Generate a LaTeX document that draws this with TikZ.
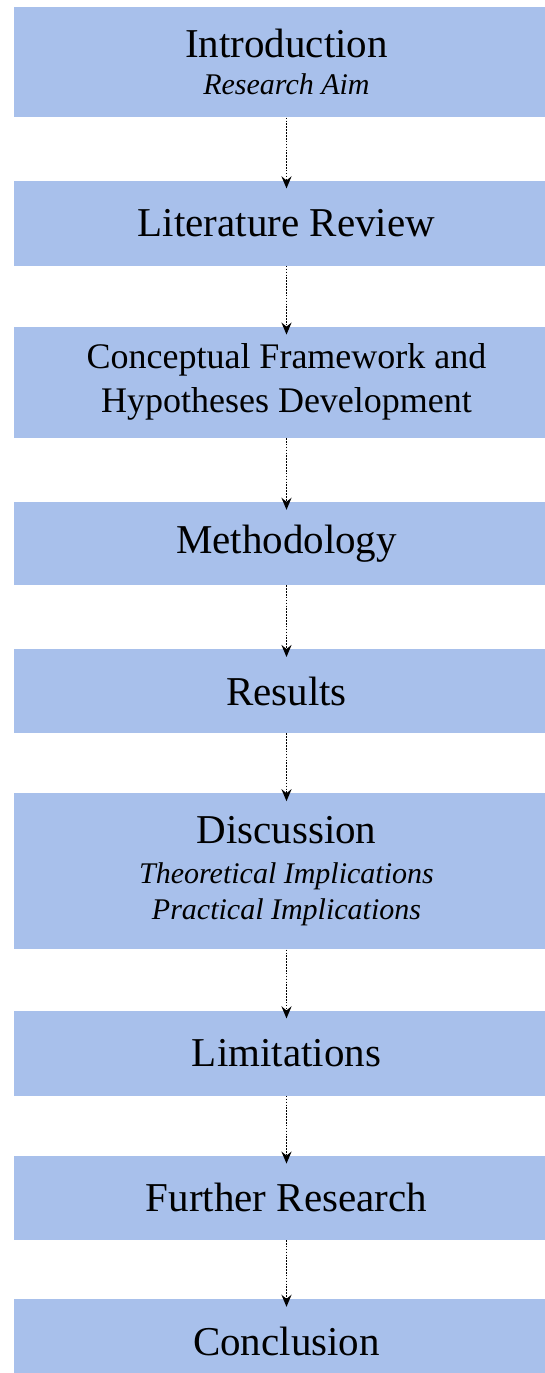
\documentclass[tikz,border=0pt]{standalone}
\usepackage{fontspec}
\setmainfont{Liberation Serif}
\usetikzlibrary{arrows.meta,positioning}
\definecolor{stageblue}{RGB}{168,192,235}
\newcommand{\subline}[1]{{\fontsize{30}{37}\selectfont\itshape #1}}

\begin{document}
\begin{tikzpicture}[x=1pt,y=1pt]
    % `stage' is used for the blue chapter boxes.
    % `nextarrow' is used for the dotted arrows between them.
    \tikzstyle{stage} = [fill=stageblue,minimum width=544pt,inner sep=0pt,align=center,font=\fontsize{41}{45}\selectfont]
    \tikzstyle{nextarrow} = [dash pattern=on 1.6pt off 1.3pt,line width=1.9pt,-{Stealth[length=12pt,width=10pt,inset=4pt]},shorten >=-8pt]
    \useasboundingbox (0,0) rectangle (545,-1373);
    %
    \matrix[row sep=61pt,anchor=north,inner sep=0pt] (chapters) at (286.5,-7) {
      \node[stage,minimum height=110pt] (intro) {Introduction\\[-8pt]\subline{Research Aim}}; \\[2pt]
      \node[stage,minimum height=85pt] (litreview) {Literature Review}; \\
      \node[stage,minimum height=111pt,font=\fontsize{36}{44}\selectfont] (framework) {Conceptual Framework and\\Hypotheses Development}; \\[3pt]
      \node[stage,minimum height=83pt] (method) {Methodology}; \\[3pt]
      \node[stage,minimum height=84pt] (results) {Results}; \\[-1pt]
      \node[stage,minimum height=156pt] (discussion) {Discussion\\[-5pt]\subline{Theoretical Implications}\\[-9pt]\subline{Practical Implications}}; \\
      \node[stage,minimum height=85pt] (limits) {Limitations}; \\[-1pt]
      \node[stage,minimum height=84pt] (further) {Further Research}; \\[-2pt]
      \node[stage,minimum height=85pt] (conclusion) {Conclusion}; \\
    };
    %
    % Draw arrows.
    \draw[nextarrow] (intro) -- (litreview);
    \draw[nextarrow] (litreview) -- (framework);
    \draw[nextarrow] (framework) -- (method);
    \draw[nextarrow] (method) -- (results);
    \draw[nextarrow] (results) -- (discussion);
    \draw[nextarrow] (discussion) -- (limits);
    \draw[nextarrow] (limits) -- (further);
    \draw[nextarrow] (further) -- (conclusion);
\end{tikzpicture}
\end{document}
